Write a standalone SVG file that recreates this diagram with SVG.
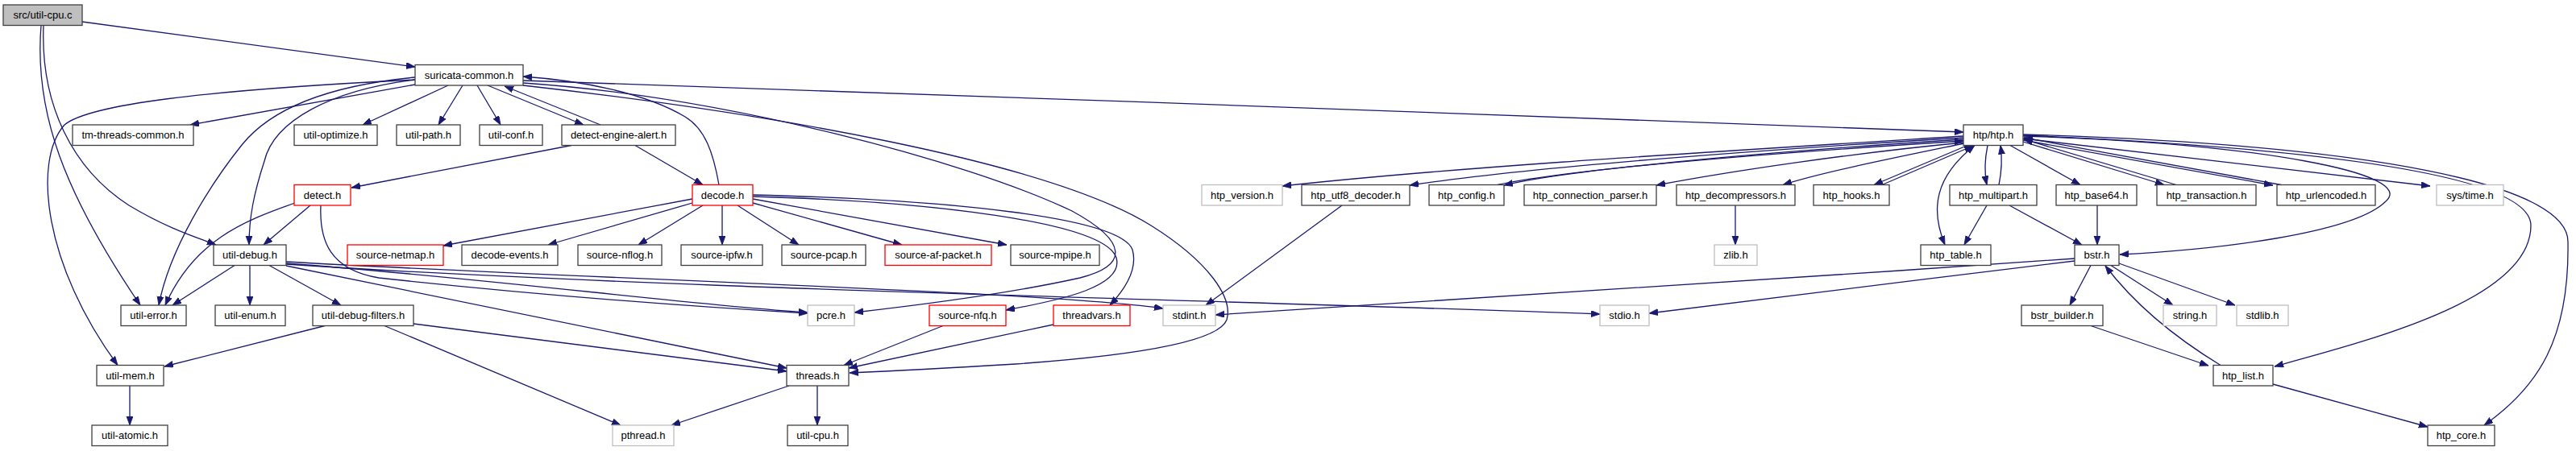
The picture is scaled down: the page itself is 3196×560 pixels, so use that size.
<svg xmlns="http://www.w3.org/2000/svg" width="3196" height="560" viewBox="0 0 3196 560">
<style>
.n rect{fill:#fff;stroke:#404040;stroke-width:1.3}
.n.g rect{stroke:#bfbfbf}
.n.r rect{stroke:#ff0000}
.n.root rect{fill:#bfbfbf}
.n text{font-family:"Liberation Sans",Arial,sans-serif;font-size:13px;fill:#000;text-anchor:middle}
.e path{fill:none;stroke:#191970;stroke-width:1.3;marker-end:url(#ah)}
.e path.both{marker-start:url(#ahs)}
</style>
<defs>
<marker id="ah" markerUnits="userSpaceOnUse" markerWidth="12" markerHeight="9" refX="11" refY="4" orient="auto"><path d="M0,0 L11,4 L0,8 z" fill="#191970" stroke="#191970" stroke-width="0.8"/></marker>
<marker id="ahs" markerUnits="userSpaceOnUse" markerWidth="12" markerHeight="9" refX="11" refY="4" orient="auto-start-reverse"><path d="M0,0 L11,4 L0,8 z" fill="#191970" stroke="#191970" stroke-width="0.8"/></marker>
</defs>
<rect width="3196" height="560" fill="#fff"/>
<g id="edges" class="e">
<path d="M102,27 L515,83"/>
<path d="M51,31.5 C42,140 80,240 174,379"/>
<path d="M54,31.5 C50,130 90,210 160,255 C210,285 245,295 268,304"/>
<path d="M515,105 L236,155"/>
<path d="M556,106 L450,155"/>
<path d="M574,106 L544,155"/>
<path d="M592,106 L621,155"/>
<path d="M605,106 L724,155"/>
<path d="M745,155 L626,107"/>
<path d="M515,99 C250,112 110,130 80,155 C40,200 55,330 146,453.5"/>
<path d="M515,96 C420,105 340,130 300,180 C260,230 210,310 197,379"/>
<path d="M515,99 C410,112 340,150 328,200 C315,240 309,270 309,304"/>
<path d="M649,100 C1200,118 2000,148 2436,164"/>
<path d="M649,103 C900,120 1200,200 1330,262 C1400,300 1400,330 1340,345 C1250,365 1130,380 1060,388"/>
<path d="M649,106 C950,140 1300,200 1428,280 C1500,325 1530,370 1522,397 C1512,425 1400,442 1260,452 C1160,458 1100,461 1054,463"/>
<path d="M892,229.5 C885,190 875,160 850,145 C800,115 720,100 649,95"/>
<path d="M709,180.5 L436,233"/>
<path d="M788,180.5 L872,229.5"/>
<path d="M385,255 L327,304"/>
<path d="M366,252 C300,275 240,300 205,379"/>
<path d="M398,255 C396,300 410,335 470,345 C700,370 900,383 1002,389"/>
<path d="M859,247 L550,305"/>
<path d="M859,252 L680,304"/>
<path d="M872,255 L792,304"/>
<path d="M896,255 L896,304"/>
<path d="M915,255 L991,304"/>
<path d="M934,252 L1119,304"/>
<path d="M934,247 L1249,304"/>
<path d="M934,244 C1150,250 1370,275 1385,320 C1395,355 1320,372 1248,385"/>
<path d="M934,242 C1180,248 1390,270 1405,310 C1412,335 1395,360 1377,379"/>
<path d="M291,329.5 L214,379"/>
<path d="M310,329.5 L310,379"/>
<path d="M334,329.5 L423,379"/>
<path d="M355,325 C700,345 1300,362 1443,383"/>
<path d="M355,327 C600,345 850,378 1002,388"/>
<path d="M355,328 C800,358 1500,372 1985,390"/>
<path d="M355,330 L976,457"/>
<path d="M513,402 C700,425 850,445 976,461"/>
<path d="M403,404.5 L204,455"/>
<path d="M477,404.5 L770,528"/>
<path d="M161,479 L161,528"/>
<path d="M979,479 L833,528"/>
<path d="M1014,479 L1014,528"/>
<path d="M1170,404.5 L1047,453.5"/>
<path d="M1307,403 L1053,457"/>
<path d="M2436,169 C2100,190 1800,208 1591,231"/>
<path d="M2436,171 C2200,185 1900,207 1749,230"/>
<path d="M2436,173 C2200,188 1950,210 1866,230"/>
<path d="M1858,229.5 C1950,210 2200,190 2436,175"/>
<path d="M2436,177 C2300,190 2150,212 2055,230"/>
<path d="M2437,178 C2350,196 2260,214 2212,229.5"/>
<path d="M2441,180.5 L2325,229.5"/>
<path d="M2335,229.5 L2448,181"/>
<path d="M2466,180.5 C2462,200 2462,215 2465,229.5"/>
<path d="M2480,229.5 C2484,210 2484,195 2482,180.5"/>
<path class="both" d="M2450,180.5 C2400,220 2395,260 2413,304"/>
<path d="M2465,255 L2437,304"/>
<path d="M2493,255 L2583,304"/>
<path d="M2494,180.5 L2581,229.5"/>
<path d="M2602,255 L2602,304"/>
<path d="M2510,176 L2685,229.5"/>
<path d="M2700,229.5 L2511,173"/>
<path d="M2510,174 L2820,230"/>
<path d="M2830,229.5 L2511,171"/>
<path d="M2510,172 L3015,231"/>
<path d="M2510,169 C2800,178 3000,215 2960,250 C2920,290 2750,310 2630,316"/>
<path d="M2510,168 C2900,185 3140,220 3140,280 C3140,370 2950,420 2822,455"/>
<path d="M2510,167 C2950,180 3186,230 3186,300 C3188,420 3150,480 3082,528"/>
<path d="M2153,255 L2153,304"/>
<path d="M2594,329.5 L2568,379"/>
<path d="M2619,329.5 L2696,379"/>
<path d="M2629,327 L2773,379"/>
<path d="M2574,321 C2200,348 1800,370 1508,391"/>
<path d="M2574,324 C2400,345 2200,370 2046,389"/>
<path d="M2594,404.5 L2740,454"/>
<path d="M2755,453.5 C2700,420 2650,380 2612,330"/>
<path d="M2820,477 L3012,530"/>
<path d="M1665,255 L1496,379"/>
</g>
<g id="n_util_cpu_c" class="n root"><rect x="4" y="6" width="98" height="25.5"/><text x="53" y="23">src/util-cpu.c</text></g>
<g id="n_suricata_common_h" class="n"><rect x="515" y="80.5" width="134" height="25.5"/><text x="582" y="97.5">suricata-common.h</text></g>
<g id="n_tm_threads_common_h" class="n"><rect x="90" y="155" width="150" height="25.5"/><text x="165" y="172">tm-threads-common.h</text></g>
<g id="n_util_optimize_h" class="n"><rect x="365" y="155" width="103" height="25.5"/><text x="416.5" y="172">util-optimize.h</text></g>
<g id="n_util_path_h" class="n"><rect x="492" y="155" width="79" height="25.5"/><text x="531.5" y="172">util-path.h</text></g>
<g id="n_util_conf_h" class="n"><rect x="595" y="155" width="78" height="25.5"/><text x="634" y="172">util-conf.h</text></g>
<g id="n_detect_engine_alert_h" class="n"><rect x="697" y="155" width="141" height="25.5"/><text x="767.5" y="172">detect-engine-alert.h</text></g>
<g id="n_htp_htp_h" class="n"><rect x="2436" y="155" width="74" height="25.5"/><text x="2473" y="172">htp/htp.h</text></g>
<g id="n_detect_h" class="n r"><rect x="365" y="229.5" width="70" height="25.5"/><text x="400" y="246.5">detect.h</text></g>
<g id="n_decode_h" class="n r"><rect x="859" y="229.5" width="75" height="25.5"/><text x="896.5" y="246.5">decode.h</text></g>
<g id="n_htp_version_h" class="n g"><rect x="1491" y="229.5" width="100" height="25.5"/><text x="1541" y="246.5">htp_version.h</text></g>
<g id="n_htp_utf8_decoder_h" class="n"><rect x="1615" y="229.5" width="134" height="25.5"/><text x="1682" y="246.5">htp_utf8_decoder.h</text></g>
<g id="n_htp_config_h" class="n"><rect x="1773" y="229.5" width="93" height="25.5"/><text x="1819.5" y="246.5">htp_config.h</text></g>
<g id="n_htp_connection_parser_h" class="n"><rect x="1891" y="229.5" width="164" height="25.5"/><text x="1973" y="246.5">htp_connection_parser.h</text></g>
<g id="n_htp_decompressors_h" class="n"><rect x="2080" y="229.5" width="147" height="25.5"/><text x="2153.5" y="246.5">htp_decompressors.h</text></g>
<g id="n_htp_hooks_h" class="n"><rect x="2250" y="229.5" width="94" height="25.5"/><text x="2297" y="246.5">htp_hooks.h</text></g>
<g id="n_htp_multipart_h" class="n"><rect x="2419" y="229.5" width="108" height="25.5"/><text x="2473" y="246.5">htp_multipart.h</text></g>
<g id="n_htp_base64_h" class="n"><rect x="2551" y="229.5" width="100" height="25.5"/><text x="2601" y="246.5">htp_base64.h</text></g>
<g id="n_htp_transaction_h" class="n"><rect x="2676" y="229.5" width="123" height="25.5"/><text x="2737.5" y="246.5">htp_transaction.h</text></g>
<g id="n_htp_urlencoded_h" class="n"><rect x="2825" y="229.5" width="122" height="25.5"/><text x="2886" y="246.5">htp_urlencoded.h</text></g>
<g id="n_sys_time_h" class="n g"><rect x="3023" y="229.5" width="83" height="25.5"/><text x="3064.5" y="246.5">sys/time.h</text></g>
<g id="n_util_debug_h" class="n"><rect x="265" y="304" width="90" height="25.5"/><text x="310" y="321">util-debug.h</text></g>
<g id="n_source_netmap_h" class="n r"><rect x="431" y="304" width="119" height="25.5"/><text x="490.5" y="321">source-netmap.h</text></g>
<g id="n_decode_events_h" class="n"><rect x="573" y="304" width="119" height="25.5"/><text x="632.5" y="321">decode-events.h</text></g>
<g id="n_source_nflog_h" class="n"><rect x="717" y="304" width="104" height="25.5"/><text x="769" y="321">source-nflog.h</text></g>
<g id="n_source_ipfw_h" class="n"><rect x="845" y="304" width="101" height="25.5"/><text x="895.5" y="321">source-ipfw.h</text></g>
<g id="n_source_pcap_h" class="n"><rect x="970" y="304" width="104" height="25.5"/><text x="1022" y="321">source-pcap.h</text></g>
<g id="n_source_af_packet_h" class="n r"><rect x="1098" y="304" width="132" height="25.5"/><text x="1164" y="321">source-af-packet.h</text></g>
<g id="n_source_mpipe_h" class="n"><rect x="1254" y="304" width="110" height="25.5"/><text x="1309" y="321">source-mpipe.h</text></g>
<g id="n_zlib_h" class="n g"><rect x="2127" y="304" width="53" height="25.5"/><text x="2153.5" y="321">zlib.h</text></g>
<g id="n_htp_table_h" class="n"><rect x="2383" y="304" width="87" height="25.5"/><text x="2426.5" y="321">htp_table.h</text></g>
<g id="n_bstr_h" class="n"><rect x="2574" y="304" width="55" height="25.5"/><text x="2601.5" y="321">bstr.h</text></g>
<g id="n_util_error_h" class="n"><rect x="150" y="379" width="81" height="25.5"/><text x="190.5" y="396">util-error.h</text></g>
<g id="n_util_enum_h" class="n"><rect x="267" y="379" width="87" height="25.5"/><text x="310.5" y="396">util-enum.h</text></g>
<g id="n_util_debug_filters_h" class="n"><rect x="388" y="379" width="125" height="25.5"/><text x="450.5" y="396">util-debug-filters.h</text></g>
<g id="n_pcre_h" class="n g"><rect x="1002" y="379" width="58" height="25.5"/><text x="1031" y="396">pcre.h</text></g>
<g id="n_source_nfq_h" class="n r"><rect x="1153" y="379" width="95" height="25.5"/><text x="1200.5" y="396">source-nfq.h</text></g>
<g id="n_threadvars_h" class="n r"><rect x="1307" y="379" width="95" height="25.5"/><text x="1354.5" y="396">threadvars.h</text></g>
<g id="n_stdint_h" class="n g"><rect x="1443" y="379" width="65" height="25.5"/><text x="1475.5" y="396">stdint.h</text></g>
<g id="n_stdio_h" class="n g"><rect x="1985" y="379" width="61" height="25.5"/><text x="2015.5" y="396">stdio.h</text></g>
<g id="n_bstr_builder_h" class="n"><rect x="2508" y="379" width="101" height="25.5"/><text x="2558.5" y="396">bstr_builder.h</text></g>
<g id="n_string_h" class="n g"><rect x="2684" y="379" width="66" height="25.5"/><text x="2717" y="396">string.h</text></g>
<g id="n_stdlib_h" class="n g"><rect x="2775" y="379" width="64" height="25.5"/><text x="2807" y="396">stdlib.h</text></g>
<g id="n_util_mem_h" class="n"><rect x="120" y="453.5" width="83" height="25.5"/><text x="161.5" y="470.5">util-mem.h</text></g>
<g id="n_threads_h" class="n"><rect x="976" y="453.5" width="77" height="25.5"/><text x="1014.5" y="470.5">threads.h</text></g>
<g id="n_htp_list_h" class="n"><rect x="2746" y="453.5" width="74" height="25.5"/><text x="2783" y="470.5">htp_list.h</text></g>
<g id="n_util_atomic_h" class="n"><rect x="114" y="528" width="94" height="25.5"/><text x="161" y="545">util-atomic.h</text></g>
<g id="n_pthread_h" class="n g"><rect x="760" y="528" width="76" height="25.5"/><text x="798" y="545">pthread.h</text></g>
<g id="n_util_cpu_h" class="n"><rect x="977" y="528" width="75" height="25.5"/><text x="1014.5" y="545">util-cpu.h</text></g>
<g id="n_htp_core_h" class="n"><rect x="3012" y="528" width="83" height="25.5"/><text x="3053.5" y="545">htp_core.h</text></g>
</svg>
